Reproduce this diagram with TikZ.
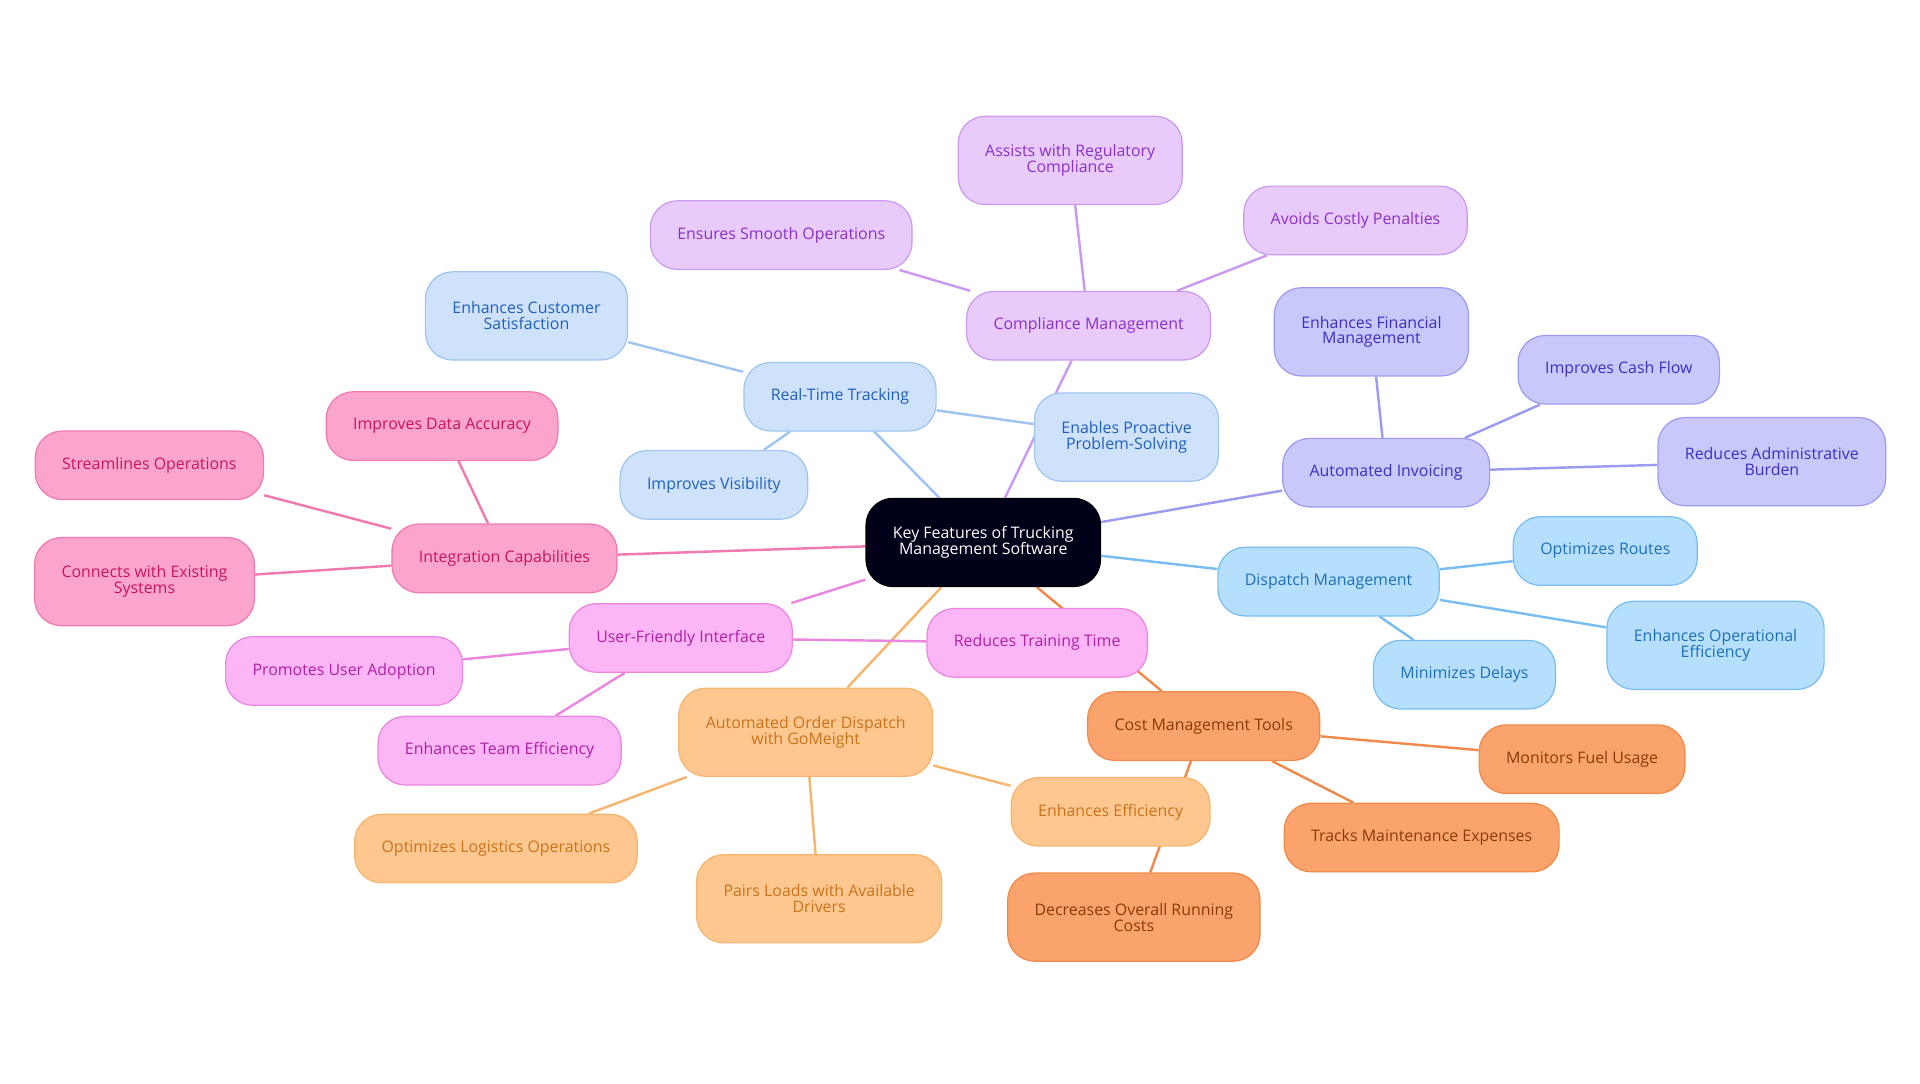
\documentclass[tikz,border=0pt]{standalone}
\usepackage{fontspec}
\setmainfont{Open Sans}
\usetikzlibrary{backgrounds}
\definecolor{blueF}{HTML}{CFE2FB}\definecolor{blueD}{HTML}{9FC4F0}\definecolor{blueT}{HTML}{1F5FBF}
\definecolor{purpF}{HTML}{E8CBFB}\definecolor{purpD}{HTML}{C99AF0}\definecolor{purpT}{HTML}{8A2FC9}
\definecolor{indiF}{HTML}{C9C8FB}\definecolor{indiD}{HTML}{9D9BF0}\definecolor{indiT}{HTML}{3A30C0}
\definecolor{skyF}{HTML}{B5DFFD}\definecolor{skyD}{HTML}{79BDF0}\definecolor{skyT}{HTML}{1D6FB8}
\definecolor{peachF}{HTML}{FEC78F}\definecolor{peachD}{HTML}{F5B56F}\definecolor{peachT}{HTML}{C9731B}
\definecolor{orngF}{HTML}{FBA36C}\definecolor{orngD}{HTML}{F08A4B}\definecolor{orngT}{HTML}{8A3A0A}
\definecolor{pinkF}{HTML}{FCA5CC}\definecolor{pinkD}{HTML}{F07AAF}\definecolor{pinkT}{HTML}{C8135F}
\definecolor{magF}{HTML}{FCB5F5}\definecolor{magD}{HTML}{EA86E0}\definecolor{magT}{HTML}{B01FA8}
\tikzstyle{box} = [rounded corners=22pt, minimum height=56pt, inner xsep=22pt, align=center, font=\fontsize{13}{16}\selectfont, line width=1pt]
\tikzstyle{blue} = [box, fill=blueF, draw=blueD, text=blueT]
\tikzstyle{purp} = [box, fill=purpF, draw=purpD, text=purpT]
\tikzstyle{indi} = [box, fill=indiF, draw=indiD, text=indiT]
\tikzstyle{sky} = [box, fill=skyF, draw=skyD, text=skyT]
\tikzstyle{peach} = [box, fill=peachF, draw=peachD, text=peachT]
\tikzstyle{orng} = [box, fill=orngF, draw=orngD, text=orngT]
\tikzstyle{pink} = [box, fill=pinkF, draw=pinkD, text=pinkT]
\tikzstyle{mag} = [box, fill=magF, draw=magD, text=magT]
\tikzstyle{link} = [line width=2pt]
\begin{document}
\begin{tikzpicture}[x=1pt, y=-1pt]
    \useasboundingbox (0,0) rectangle (1568,885);
    \node (root) [box, fill=black!90!blue, draw=black, text=white, minimum height=72pt] at (803,443) {Key Features of Trucking\\[-3pt]Management Software};

    \node (track) [blue] at (686,324) {Real-Time Tracking};
    \node (satis) [blue, minimum height=72pt] at (430,258) {Enhances Customer\\[-3pt]Satisfaction};
    \node (visib) [blue] at (583,396) {Improves Visibility};
    \node (proac) [blue, minimum height=72pt] at (920,357) {Enables Proactive\\[-3pt]Problem-Solving};

    \node (compl) [purp] at (889,266) {Compliance Management};
    \node (smooth) [purp] at (638,192) {Ensures Smooth Operations};
    \node (regul) [purp, minimum height=72pt] at (874,131) {Assists with Regulatory\\[-3pt]Compliance};
    \node (penal) [purp] at (1107,180) {Avoids Costly Penalties};

    \node (invoi) [indi] at (1132,386) {Automated Invoicing};
    \node (finan) [indi, minimum height=72pt] at (1120,271) {Enhances Financial\\[-3pt]Management};
    \node (cash) [indi] at (1322,302) {Improves Cash Flow};
    \node (admin) [indi, minimum height=72pt] at (1447,377) {Reduces Administrative\\[-3pt]Burden};

    \node (disp) [sky] at (1085,475) {Dispatch Management};
    \node (route) [sky] at (1311,450) {Optimizes Routes};
    \node (opeff) [sky, minimum height=72pt] at (1401,527) {Enhances Operational\\[-3pt]Efficiency};
    \node (delay) [sky] at (1196,551) {Minimizes Delays};

    \node (cost) [orng] at (983,593) {Cost Management Tools};
    \node (fuel) [orng] at (1292,620) {Monitors Fuel Usage};
    \node (maint) [orng] at (1161,684) {Tracks Maintenance Expenses};
    \node (runco) [orng, minimum height=72pt] at (926,749) {Decreases Overall Running\\[-3pt]Costs};

    \node (order) [peach, minimum height=72pt] at (658,598) {Automated Order Dispatch\\[-3pt]with GoMeight};
    \node (logis) [peach] at (405,693) {Optimizes Logistics Operations};
    \node (pairs) [peach, minimum height=72pt] at (669,734) {Pairs Loads with Available\\[-3pt]Drivers};
    \node (effic) [peach] at (907,663) {Enhances Efficiency};

    \node (user) [mag] at (556,521) {User-Friendly Interface};
    \node (adopt) [mag] at (281,548) {Promotes User Adoption};
    \node (team) [mag] at (408,613) {Enhances Team Efficiency};
    \node (train) [mag] at (847,525) {Reduces Training Time};

    \node (integ) [pink] at (412,456) {Integration Capabilities};
    \node (accur) [pink] at (361,348) {Improves Data Accuracy};
    \node (strea) [pink] at (122,380) {Streamlines Operations};
    \node (conne) [pink, minimum height=72pt] at (118,475) {Connects with Existing\\[-3pt]Systems};

    \begin{pgfonlayer}{background}
        \draw[link, blueD] (root) -- (track) (track) -- (satis) (track) -- (visib) (track) -- (proac);
        \draw[link, purpD] (root) -- (compl) (compl) -- (smooth) (compl) -- (regul) (compl) -- (penal);
        \draw[link, indiD] (root) -- (invoi) (invoi) -- (finan) (invoi) -- (cash) (invoi) -- (admin);
        \draw[link, skyD] (root) -- (disp) (disp) -- (route) (disp) -- (opeff) (disp) -- (delay);
        \draw[link, orngD] (root) -- (cost) (cost) -- (fuel) (cost) -- (maint) (cost) -- (runco);
        \draw[link, peachD] (root) -- (order) (order) -- (logis) (order) -- (pairs) (order) -- (effic);
        \draw[link, magD] (root) -- (user) (user) -- (adopt) (user) -- (team) (user) -- (train);
        \draw[link, pinkD] (root) -- (integ) (integ) -- (accur) (integ) -- (strea) (integ) -- (conne);
    \end{pgfonlayer}
\end{tikzpicture}
\end{document}
